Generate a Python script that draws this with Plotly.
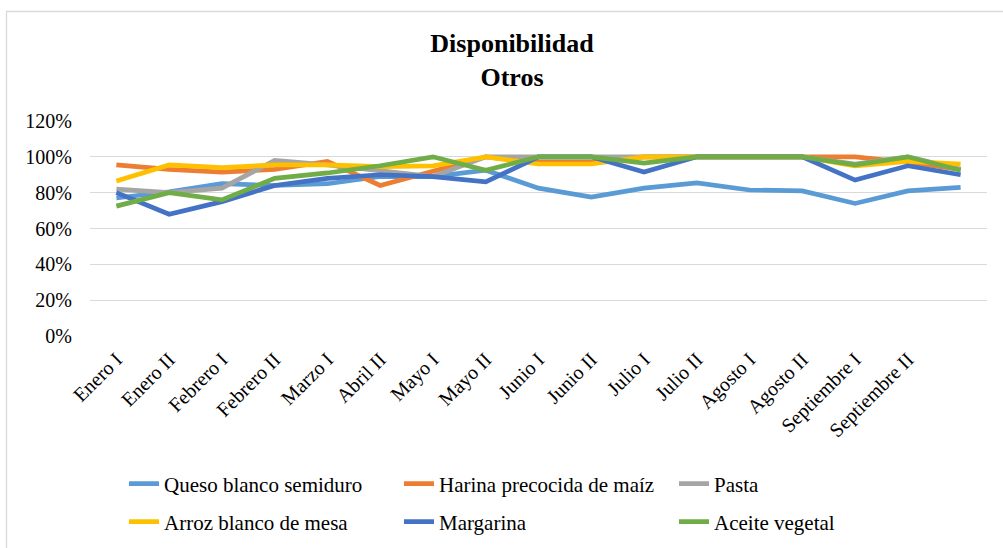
import plotly.graph_objects as go

categories = ["Enero I", "Enero II", "Febrero I", "Febrero II", "Marzo I", "Abril II",
              "Mayo I", "Mayo II", "Junio I", "Junio II", "Julio I", "Julio II",
              "Agosto I", "Agosto II", "Septiembre I", "Septiembre II", " "]

queso = [77, 80.5, 85, 84, 85, 89, 89, 92.5, 82.5, 77.5, 82.5, 85.5, 81.5, 81, 74, 81, 83]
harina = [95.5, 93, 91.5, 93, 97.5, 84, 92, 100, 97, 97, 100, 100, 100, 100, 100, 97, 93]
pasta = [82, 80, 82.5, 98, 95.5, 92, 89, 100, 100, 100, 100, 100, 100, 100, 96, 100, 93]
arroz = [86.5, 95.5, 94, 95.5, 95.5, 94.5, 95, 100, 96, 96, 100, 100, 100, 100, 95, 97.5, 96]
margarina = [80, 68, 75, 84, 88, 90, 89, 86, 100, 100, 91.5, 100, 100, 100, 87, 95, 90]
aceite = [72.5, 80, 76, 88, 91, 95, 100, 92.5, 100, 100, 96.5, 100, 100, 100, 95.5, 100, 92.5]

series = [
    ("Queso blanco semiduro", queso, "#5B9BD5", "legend"),
    ("Harina precocida de maíz", harina, "#ED7D31", "legend"),
    ("Pasta", pasta, "#A5A5A5", "legend"),
    ("Arroz blanco de mesa", arroz, "#FFC000", "legend2"),
    ("Margarina", margarina, "#4472C4", "legend2"),
    ("Aceite vegetal", aceite, "#70AD47", "legend2"),
]

FONT = "Liberation Serif"
W, H = 1003, 548
L, R, T, B = 90, 16, 121, 212
PW, PH = W - L - R, H - T - B

fig = go.Figure()
for name, vals, color, lg in series:
    fig.add_trace(go.Scatter(
        x=categories, y=vals, name=name, mode="lines",
        line=dict(color=color, width=4.7),
        legend=lg,
    ))

def px_to_paper_x(px):
    return (px - L) / PW

def px_to_paper_y(py):
    return (H - B - py) / PH

legend_common = dict(
    orientation="h", xanchor="left", yanchor="middle",
    xref="container", yref="container",
    entrywidth=230, entrywidthmode="pixels",
    font=dict(family=FONT, size=21, color="#000000"),
    bgcolor="rgba(0,0,0,0)", borderwidth=0,
)

bx0, by0 = px_to_paper_x(6.5), px_to_paper_y(11.5)
bx1, by1 = px_to_paper_x(1010), px_to_paper_y(560)
border_path = f"M {bx0},{by1} L {bx0},{by0} L {bx1},{by0}"

fig.update_layout(
    width=W, height=H,
    margin=dict(l=L, r=R, t=T, b=B, autoexpand=False),
    paper_bgcolor="white", plot_bgcolor="white",
    font=dict(family=FONT, size=20, color="#000000"),
    title=dict(
        text="<b>Disponibilidad</b><br><b>Otros</b>",
        font=dict(family=FONT, size=26, color="#000000"),
        x=512 / W, xanchor="center", xref="container",
        y=1 - 52 / H, yanchor="middle", yref="container",
    ),
    legend=dict(x=124 / W, y=1 - 484 / H, **legend_common),
    legend2=dict(x=124 / W, y=1 - 522 / H, **legend_common),
    xaxis=dict(
        type="category", categoryorder="array", categoryarray=categories,
        range=[-0.5, len(categories) - 0.5],
        tickangle=-45, showgrid=False, showline=False, zeroline=False,
        ticks="", ticklabelstandoff=7, automargin=False,
        tickfont=dict(family=FONT, size=20, color="#000000"),
    ),
    yaxis=dict(
        range=[0, 120], dtick=20, tick0=0, ticksuffix="%",
        showgrid=True, gridcolor="#D9D9D9", gridwidth=1.3,
        zeroline=False, showline=False, ticks="",
        ticklabelstandoff=17, automargin=False,
        tickfont=dict(family=FONT, size=20, color="#000000"),
    ),
    shapes=[dict(
        type="path", xref="paper", yref="paper", path=border_path,
        line=dict(color="#D9D9D9", width=1.3), layer="below",
    )],
)

fig.write_html("out.html", config={"displayModeBar": False},
               post_script="document.body.style.margin='0px';")
